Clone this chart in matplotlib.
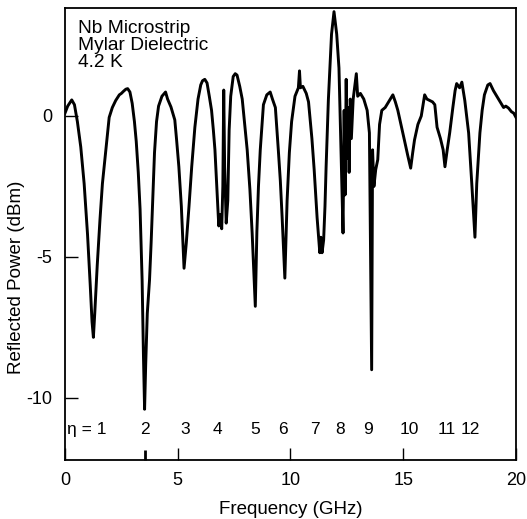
import matplotlib
matplotlib.use("Agg")
import matplotlib.pyplot as plt

plt.rcParams['font.family'] = ['Liberation Sans', 'DejaVu Sans']
plt.rcParams['axes.unicode_minus'] = False

# trace: frequency (GHz) and reflected power (dBm)
freq_ghz = [
    0.0, 0.12, 0.3, 0.42, 0.55, 0.7, 0.85, 1.0, 1.12, 1.2,
    1.26, 1.32, 1.43, 1.55, 1.66, 1.8, 1.96, 2.1, 2.25, 2.41,
    2.5, 2.6, 2.7, 2.78, 2.88, 2.98, 3.08, 3.16, 3.25, 3.33,
    3.42, 3.48, 3.53, 3.58, 3.65, 3.75, 3.82, 3.9, 3.97, 4.06,
    4.15, 4.3, 4.46, 4.55, 4.7, 4.87, 4.95, 5.05, 5.16, 5.28,
    5.38, 5.5, 5.62, 5.76, 5.9, 6.02, 6.1, 6.2, 6.3, 6.4,
    6.5, 6.58, 6.65, 6.75, 6.82, 6.88, 6.95, 7.0, 7.04, 7.08,
    7.15, 7.22, 7.28, 7.35, 7.46, 7.55, 7.63, 7.75, 7.86, 7.97,
    8.08, 8.2, 8.3, 8.44, 8.51, 8.58, 8.66, 8.8, 8.95, 9.1,
    9.2, 9.33, 9.46, 9.55, 9.63, 9.75, 9.85, 9.95, 10.05, 10.2,
    10.35, 10.4, 10.44, 10.55, 10.7, 10.8, 10.95, 11.05, 11.18, 11.3,
    11.35, 11.4, 11.47, 11.53, 11.58, 11.62, 11.68, 11.75, 11.82, 11.93,
    12.05, 12.15, 12.22, 12.28, 12.33, 12.38, 12.42, 12.47, 12.52, 12.56,
    12.6, 12.65, 12.7, 12.78, 12.92, 12.98, 13.1, 13.25, 13.4, 13.5,
    13.6, 13.64, 13.7, 13.78, 13.87, 13.95, 14.05, 14.2, 14.35, 14.54,
    14.65, 14.76, 14.9, 15.05, 15.2, 15.33, 15.42, 15.5, 15.65, 15.8,
    15.9, 15.95, 16.05, 16.17, 16.3, 16.4, 16.5, 16.65, 16.77, 16.85,
    16.95, 17.06, 17.2, 17.3, 17.37, 17.5, 17.6, 17.73, 17.9, 18.04,
    18.18, 18.26, 18.4, 18.5, 18.6, 18.75, 18.85, 19.0, 19.15, 19.3,
    19.45, 19.55, 19.67, 19.8, 19.9, 20.0,
]
power_dbm = [
    0.1, 0.35, 0.57, 0.4, -0.2, -1.1, -2.4, -4.2, -6.0, -7.3,
    -7.85, -7.0, -5.3, -3.7, -2.4, -1.3, -0.05, 0.3, 0.55, 0.75,
    0.8, 0.88, 0.95, 0.97, 0.85, 0.45, -0.2, -0.9, -2.0, -3.3,
    -5.8, -8.5, -10.4, -8.8, -7.0, -5.8, -4.5, -2.8, -1.3, -0.2,
    0.35, 0.7, 0.85, 0.6, 0.32, -0.14, -0.85, -1.8, -3.2, -5.4,
    -4.5, -3.2, -1.8, -0.4, 0.6, 1.1, 1.25, 1.3, 1.17, 0.7,
    0.2, -0.5, -1.2, -2.8, -3.9, -3.5, -4.0, -2.5, 0.92, -1.8,
    -3.8, -3.0, -0.5, 0.7, 1.4, 1.5, 1.45, 1.05, 0.6, -0.3,
    -1.2, -2.6, -4.15, -6.75, -4.1, -2.5, -1.2, 0.4, 0.75, 0.85,
    0.6, 0.3, -1.2, -2.3, -3.6, -5.75, -3.0, -1.3, -0.2, 0.7,
    1.0, 1.6, 1.0, 1.05, 0.8, 0.5, -0.8, -1.9, -3.6, -4.85,
    -4.3, -4.85, -4.4, -3.2, -1.8, -0.85, 0.57, 1.75, 2.9, 3.7,
    2.9, 1.7, -0.5, -2.5, -4.15, 0.2, -2.8, 1.3, -1.5, 0.3,
    -2.0, 0.6, -0.8, 0.6, 1.5, 0.7, 0.8, 0.6, 0.2, -0.6,
    -9.0, -1.2, -2.5, -1.9, -1.55, -0.3, 0.2, 0.3, 0.5, 0.75,
    0.5, 0.2, -0.3, -0.85, -1.4, -1.85, -1.3, -0.85, -0.3, 0.0,
    0.5, 0.75, 0.6, 0.55, 0.5, 0.4, -0.4, -0.8, -1.2, -1.8,
    -1.2, -0.6, 0.3, 0.9, 1.15, 1.0, 1.2, 0.55, -0.6, -2.4,
    -4.3, -2.4, -0.6, 0.2, 0.75, 1.1, 1.15, 0.9, 0.7, 0.5,
    0.3, 0.35, 0.28, 0.15, 0.1, -0.05,
]

# resonance order labels and where they sit along the frequency axis
mode_labels = ["2", "3", "4", "5", "6", "7", "8", "9", "10", "11", "12"]
mode_pos = [3.55, 5.32, 6.74, 8.43, 9.67, 11.09, 12.2, 13.44, 15.26, 16.94, 17.96]

fig = plt.figure(figsize=(5.27, 5.19), dpi=100)
ax = fig.add_axes([0.1233, 0.1137, 0.8558, 0.8709])

ax.plot(freq_ghz, power_dbm, color="black", lw=2.1, solid_joinstyle="round")

ax.set_xlim(0, 20)
ax.set_ylim(-12.2, 3.83)
ax.set_xticks([0, 5, 10, 15, 20])
ax.set_yticks([0, -5, -10])
ax.set_xticks([3.53], minor=True)
ax.tick_params(which="major", direction="in", length=9, width=1.0, labelsize=13, pad=9)
ax.tick_params(which="minor", direction="in", length=7, width=2.0)
for s in ax.spines.values():
    s.set_linewidth(1.3)

ax.set_xlabel("Frequency (GHz)", fontsize=13.5, labelpad=8)
ax.set_ylabel("Reflected Power (dBm)", fontsize=13.5)
ax.yaxis.set_label_coords(-0.088, 0.405)

ax.text(0.028, 0.974, "Nb Microstrip\nMylar Dielectric\n4.2 K", transform=ax.transAxes,
        ha="left", va="top", fontsize=13.8, linespacing=1.0)

ax.text(0.09, -11.13, "\u03b7 = 1", ha="left", va="center", fontsize=12.5)
for lab, pos in zip(mode_labels, mode_pos):
    ax.text(pos, -11.13, lab, ha="center", va="center", fontsize=12.5)

fig.savefig("out.png", dpi=100)
